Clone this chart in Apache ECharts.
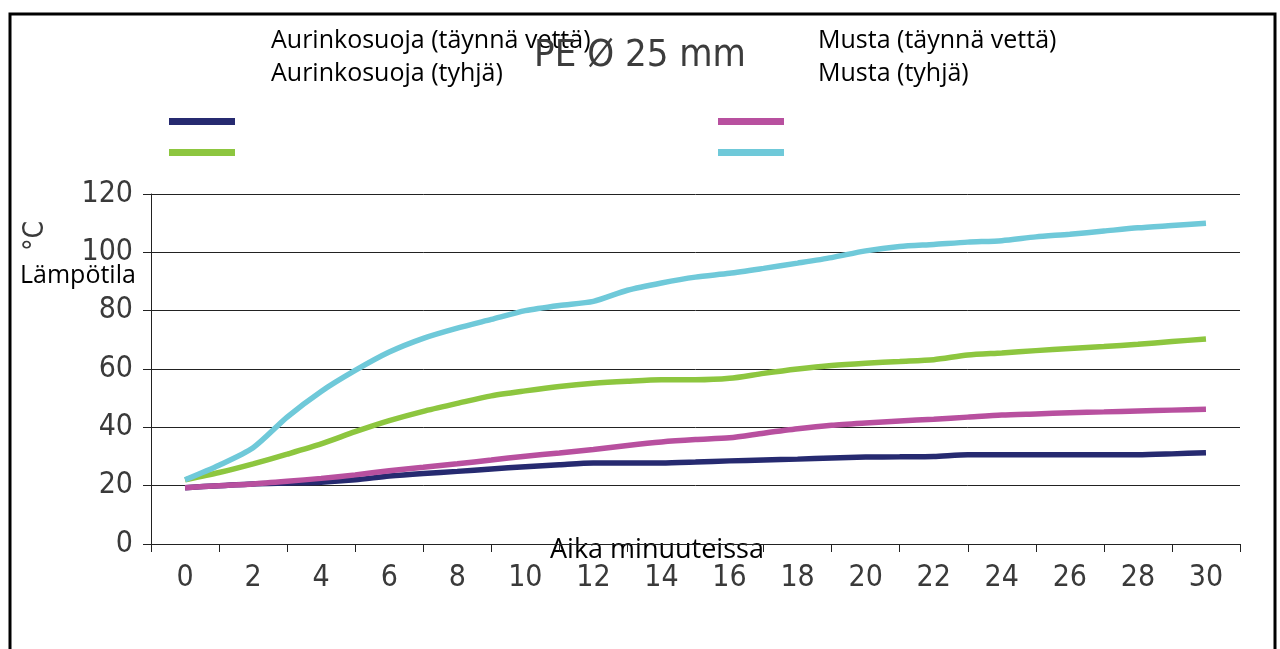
<!DOCTYPE html>
<html>
<head>
<meta charset="utf-8">
<script src="https://cdn.jsdelivr.net/npm/echarts@6/dist/echarts.min.js"></script>
<style>
  html, body { margin: 0; padding: 0; background: #fff; }
  #chart { width: 1280px; height: 649px; }
</style>
</head>
<body>
<div id="chart"></div>
<script>
// minutes 0..30
const minutes = [0, 1, 2, 3, 4, 5, 6, 7, 8, 9, 10, 11, 12, 13, 14, 15,
  16, 17, 18, 19, 20, 21, 22, 23, 24, 25, 26, 27, 28, 29, 30]

const seriesNames = ['Aurinkosuoja (täynnä vettä)', 'Aurinkosuoja (tyhjä)', 'Musta (täynnä vettä)', 'Musta (tyhjä)']
const seriesColors = ['#262a70', '#8dc63f', '#b8509f', '#6fc9d9']

const sunFull = [19.3, 20, 20.6, 20.9, 21.2, 22, 23.3, 24.2, 24.9, 25.7, 26.5, 27.2, 27.8, 27.8, 27.8, 28.1,
  28.5, 28.8, 29.1, 29.5, 29.8, 29.9, 30, 30.6, 30.6, 30.6, 30.6, 30.6, 30.6, 30.9, 31.3]
const sunEmpty = [22, 24.5, 27.5, 30.8, 34.3, 38.5, 42.3, 45.5, 48.2, 50.8, 52.5, 54, 55.1, 55.8, 56.3, 56.3,
  56.8, 58.5, 60, 61.2, 62, 62.6, 63.2, 64.8, 65.5, 66.3, 67, 67.7, 68.5, 69.4, 70.3]
const blackFull = [19.3, 20, 20.6, 21.5, 22.5, 23.7, 25.1, 26.3, 27.5, 28.8, 30.1, 31.2, 32.4, 33.8, 35, 35.8,
  36.4, 38, 39.5, 40.7, 41.5, 42.2, 42.8, 43.5, 44.2, 44.6, 45, 45.3, 45.6, 45.9, 46.2]
const blackEmpty = [22, 27, 33, 43.5, 52.3, 59.5, 65.8, 70.5, 74, 77, 80, 81.8, 83.2, 87, 89.5, 91.5,
  92.8, 94.5, 96.3, 98.2, 100.5, 102, 102.7, 103.5, 104, 105.3, 106.2, 107.3, 108.4, 109.2, 110]

const xTickValues = [-1, 1, 3, 5, 7, 9, 11, 13, 15, 17, 19, 21, 23, 25, 27, 29, 31]
const xLabelValues = [0, 2, 4, 6, 8, 10, 12, 14, 16, 18, 20, 22, 24, 26, 28, 30]

const allSeries = [sunFull, sunEmpty, blackFull, blackEmpty]

const numFont = "'DejaVu Sans Condensed', 'Roboto', sans-serif"
const textFont = "'Open Sans', 'Noto Sans', sans-serif"

const chart = echarts.init(document.getElementById('chart'))

chart.setOption({
  animation: false,
  title: {
    text: 'PE Ø 25 mm',
    left: 'center',
    top: 32,
    textStyle: { fontFamily: numFont, fontSize: 38, fontWeight: 'normal', color: '#3c3c3c' }
  },
  legend: [
    {
      data: seriesNames.slice(0, 2),
      orient: 'vertical',
      left: 169,
      top: 118,
      icon: 'rect',
      itemWidth: 66,
      itemHeight: 7,
      itemGap: 24,
      padding: 0,
      selectedMode: false,
      formatter: () => '',
      textStyle: { fontSize: 1 }
    },
    {
      data: seriesNames.slice(2, 4),
      orient: 'vertical',
      left: 718,
      top: 118,
      icon: 'rect',
      itemWidth: 66,
      itemHeight: 7,
      itemGap: 24,
      padding: 0,
      selectedMode: false,
      formatter: () => '',
      textStyle: { fontSize: 1 }
    }
  ],
  grid: {
    left: 151,
    right: 40,
    top: 194,
    bottom: 105
  },
  xAxis: {
    type: 'value',
    min: -1,
    max: 31,
    axisLine: { show: true, lineStyle: { color: '#222', width: 1 } },
    axisTick: {
      show: true,
      customValues: xTickValues,
      length: 8,
      lineStyle: { color: '#222', width: 1 }
    },
    axisLabel: {
      customValues: xLabelValues,
      margin: 19,
      fontFamily: numFont,
      fontSize: 30,
      color: '#3a3a3a'
    },
    splitLine: { show: false }
  },
  yAxis: {
    type: 'value',
    min: 0,
    max: 120,
    interval: 20,
    axisLine: { show: true, onZero: false, lineStyle: { color: '#222', width: 1 } },
    axisTick: { show: true, length: 8, lineStyle: { color: '#222', width: 1 } },
    axisLabel: {
      margin: 18,
      fontFamily: numFont,
      fontSize: 30,
      color: '#3a3a3a'
    },
    splitLine: { show: true, lineStyle: { color: '#222', width: 1 } }
  },
  graphic: [
    {
      type: 'rect',
      shape: { x: 10, y: 14, width: 1265, height: 700 },
      style: { fill: 'none', stroke: '#000', lineWidth: 3 },
      silent: true
    },
    {
      type: 'text', left: 271, top: 28,
      style: { text: seriesNames[0], font: '25px ' + textFont, fill: '#000' }
    },
    {
      type: 'text', left: 271, top: 61,
      style: { text: seriesNames[1], font: '25px ' + textFont, fill: '#000' }
    },
    {
      type: 'text', left: 818, top: 28,
      style: { text: seriesNames[2], font: '25px ' + textFont, fill: '#000' }
    },
    {
      type: 'text', left: 818, top: 61,
      style: { text: seriesNames[3], font: '25px ' + textFont, fill: '#000' }
    },
    {
      type: 'text', left: 20, top: 263,
      style: { text: 'Lämpötila', font: '25px ' + textFont, fill: '#000' }
    },
    {
      type: 'text', x: 36, y: 236, rotation: Math.PI / 2,
      style: { text: '°C', font: '28px ' + numFont, fill: '#3a3a3a', align: 'center', verticalAlign: 'middle' }
    },
    {
      type: 'text', left: 550, top: 537,
      style: { text: 'Aika minuuteissa', font: '27px ' + textFont, fill: '#000' }
    }
  ],
  series: allSeries.map((vals, i) => ({
    name: seriesNames[i],
    type: 'line',
    data: minutes.map((m, j) => [m, vals[j]]),
    showSymbol: false,
    symbol: 'none',
    smooth: 0.25,
    color: seriesColors[i],
    lineStyle: { width: 5.5, color: seriesColors[i] }
  }))
})
</script>
</body>
</html>
